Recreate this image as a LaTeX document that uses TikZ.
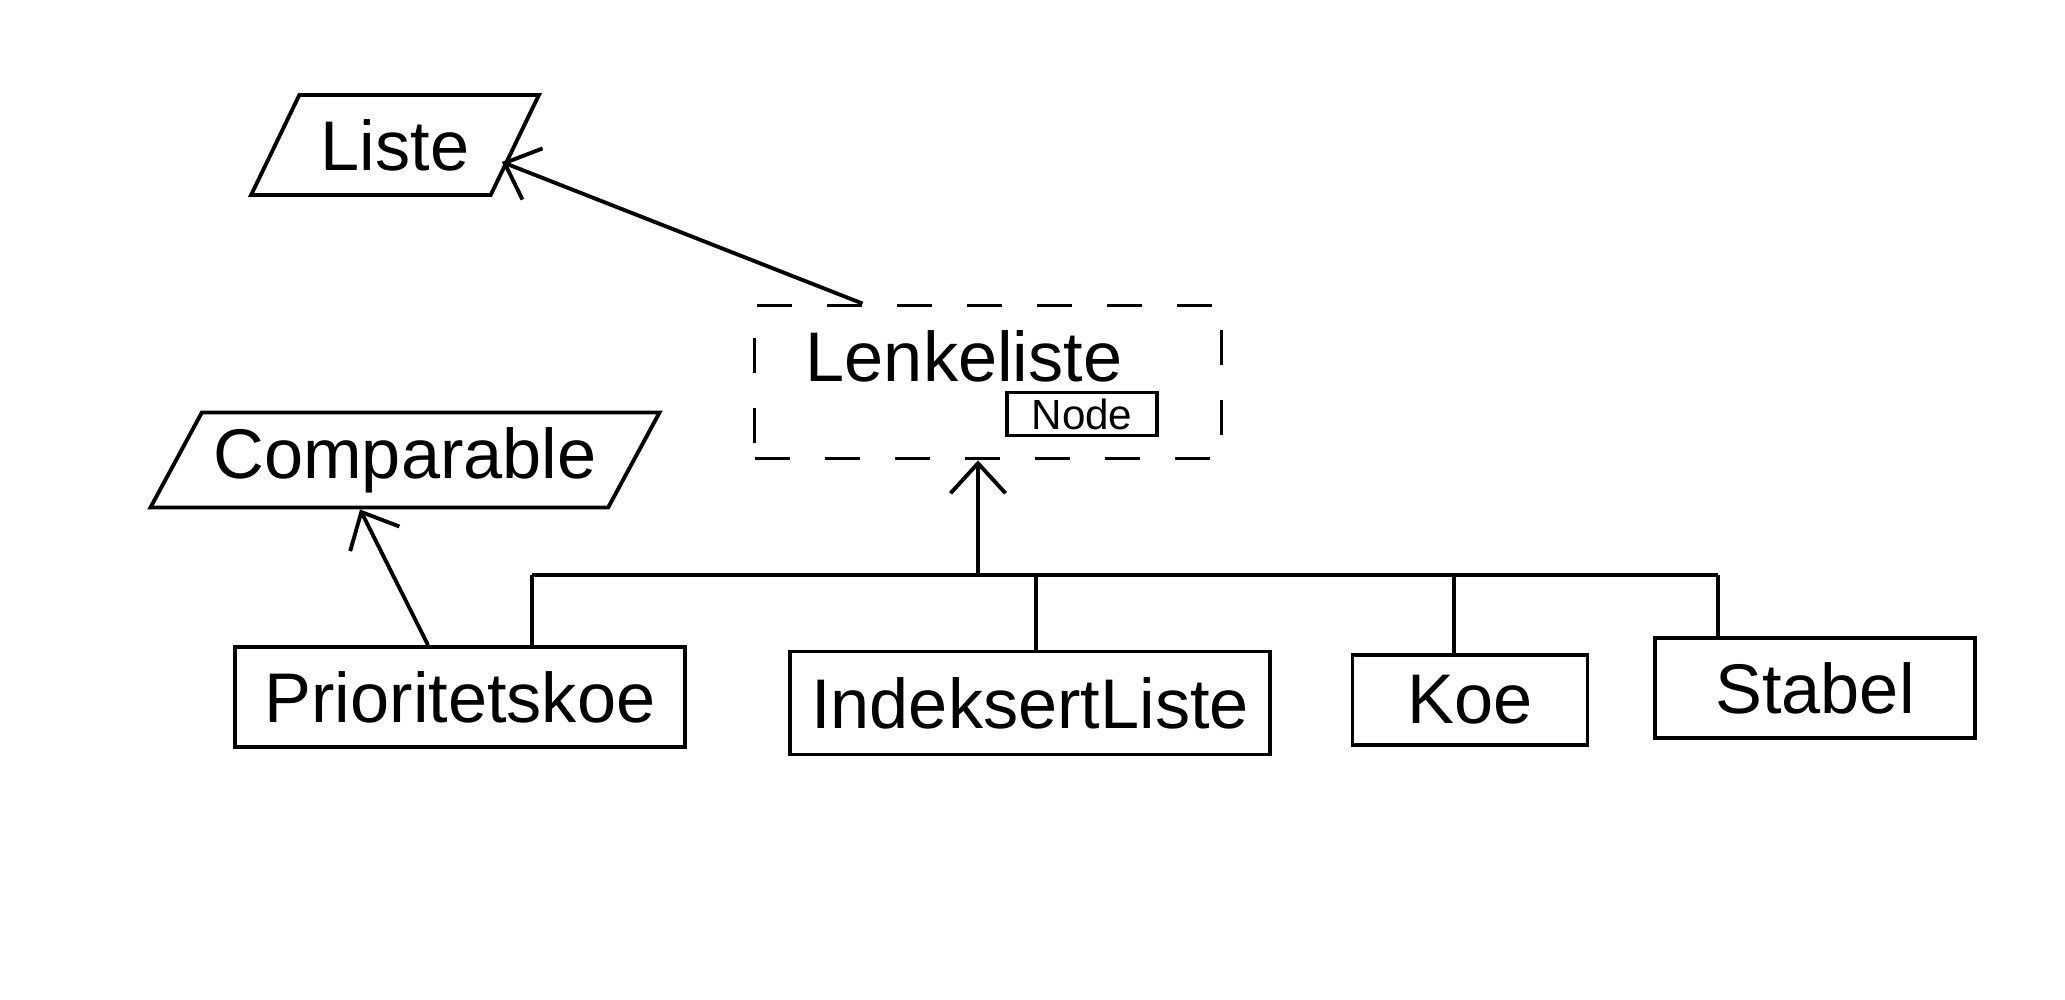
\documentclass[tikz,border=0pt]{standalone}
\usepackage{fontspec}
\setmainfont{Liberation Sans}
\usetikzlibrary{arrows.meta,shapes.geometric}

\begin{document}
\begin{tikzpicture}[
    line width=1.1pt,
    every node/.style={font=\fontsize{20}{24}\selectfont},
    iface/.style={draw, trapezium, trapezium left angle=60, trapezium right angle=120, trapezium stretches=true, minimum height=1.0cm},
    klasse/.style={draw, minimum height=1.0cm},
    abstrakt/.style={draw, dash pattern=on 3.5mm off 3.5mm, minimum width=4.67cm, minimum height=1.53cm},
    arv/.style={-{Straight Barb[length=3mm,width=5.5mm]}}
]
\useasboundingbox (0,0) rectangle (20.65,-10);
% interfaces
\node[iface, minimum width=2.9cm] (liste) at (3.95,-1.45) {Liste};
\node[iface, minimum width=5.0cm, minimum height=0.95cm] (comp) at (4.05,-4.60) {Comparable};
% abstrakt klasse med indre klasse
\node[abstrakt] (lenke) at (9.88,-3.82) {};
\node (lenketekst) at (9.64,-3.56) {Lenkeliste};
\node[draw, font=\fontsize{12}{14}\selectfont, minimum width=1.5cm, minimum height=0.43cm, inner sep=1pt] (nodeklasse) at (10.82,-4.14) {Node};
% subklasser
\node[klasse, minimum width=4.5cm] (prio) at (4.60,-6.97) {Prioritetskoe};
\node[klasse, minimum width=4.8cm, minimum height=1.03cm] (idx) at (10.30,-7.03) {IndeksertListe};
\node[klasse, minimum width=2.35cm, minimum height=0.9cm] (koe) at (14.70,-7.0) {Koe};
\node[klasse, minimum width=3.2cm] (stabel) at (18.15,-6.88) {Stabel};
% felles arvelinje
\coordinate (d1) at (5.32,-5.75);
\coordinate (d2) at (10.36,-5.75);
\coordinate (d3) at (14.54,-5.75);
\coordinate (d4) at (17.18,-5.75);
\coordinate (pil) at ([xshift=-1mm]lenke.south);
\draw (d1) -- (d4);
\draw (d1) -- (d1 |- prio.north);
\draw (d2) -- (d2 |- idx.north);
\draw (d3) -- (d3 |- koe.north);
\draw (d4) -- (d4 |- stabel.north);
\draw[arv] (pil |- d1) -- (pil);
\draw[arv] ([xshift=1.1cm]lenke.north west) -- ([xshift=-1.5mm,yshift=-1.7mm]liste.east);
\draw[arv] ([xshift=-3.2mm]prio.north) -- ([xshift=-4.5mm]comp.south);
\end{tikzpicture}
\end{document}
